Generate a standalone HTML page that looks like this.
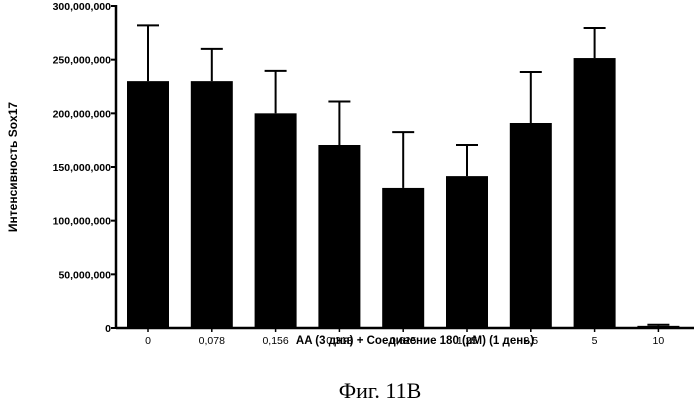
<!DOCTYPE html>
<html><head><meta charset="utf-8"><style>
body{margin:0;background:#fff;width:699px;height:413px;overflow:hidden}
svg{display:block}
text{font-family:"Liberation Sans",sans-serif}
</style></head><body>
<svg id="c" width="699" height="413">
<text x="380" y="398" text-anchor="middle" font-size="22" style="font-family:'Liberation Serif',serif">Фиг. 11B</text>
<text x="415" y="344" text-anchor="middle" font-size="11.5" font-weight="bold">AA (3 дня) + Соединение 180 (µM) (1 день)</text>
<text transform="translate(17,167) rotate(-90)" text-anchor="middle" font-size="12" font-weight="bold">Интенсивность Sox17</text>
</svg>
<script>
const categories=["0","0,078","0,156","0,313","0,625","1,25","2,5","5","10"];
const values=[230,230,200,170.5,130.5,141.5,191,251.5,2];
const errors=[52,30,39.5,40.5,52,29,47.5,28,1];
const yTicks=[0,50,100,150,200,250,300];
const yTickLabels=["0","50,000,000","100,000,000","150,000,000","200,000,000","250,000,000","300,000,000"];
const svg=document.getElementById('c');const NS='http://www.w3.org/2000/svg';
const X0=116,Y0=328,YT=6,XR=694;
const y=v=>Y0-(v/300)*(Y0-YT);
const x=i=>148+i*63.8;
function mk(t,a){const e=document.createElementNS(NS,t);for(const k in a)e.setAttribute(k,a[k]);svg.appendChild(e);return e;}
values.forEach((v,i)=>{
 const cx=x(i);
 const eb=mk('line',{x1:cx,x2:cx,y1:y(v+errors[i]),y2:y(v),stroke:'#000','stroke-width':2});
 
 
 const cap=mk('line',{x1:cx-11,x2:cx+11,y1:y(v+errors[i]),y2:y(v+errors[i]),stroke:'#000','stroke-width':2});
 
 
 const b=mk('rect',{x:cx-21,y:y(v),width:42,height:Y0-y(v),fill:'#000'});
 
 
 const tk=mk('line',{x1:cx,x2:cx,y1:Y0,y2:Y0+4,stroke:'#000','stroke-width':1.5});
 
 
 const t=mk('text',{x:cx,y:Y0+16,'text-anchor':'middle','font-size':10.5});
 t.textContent=categories[i];
 
 
});
yTicks.forEach((v,i)=>{
 const tk=mk('line',{x1:X0-5,x2:X0,y1:y(v),y2:y(v),stroke:'#000','stroke-width':2});
 
 
 const t=mk('text',{x:X0-5,y:y(v)+4,'text-anchor':'end','font-size':10.5,'font-weight':'bold'});
 t.textContent=yTickLabels[i];
 
 
});
const ya=mk('line',{x1:X0,x2:X0,y1:YT-1,y2:Y0+1,stroke:'#000','stroke-width':2.5});


const xa=mk('line',{x1:X0,x2:XR,y1:Y0,y2:Y0,stroke:'#000','stroke-width':2.5});


</script>
</body></html>
